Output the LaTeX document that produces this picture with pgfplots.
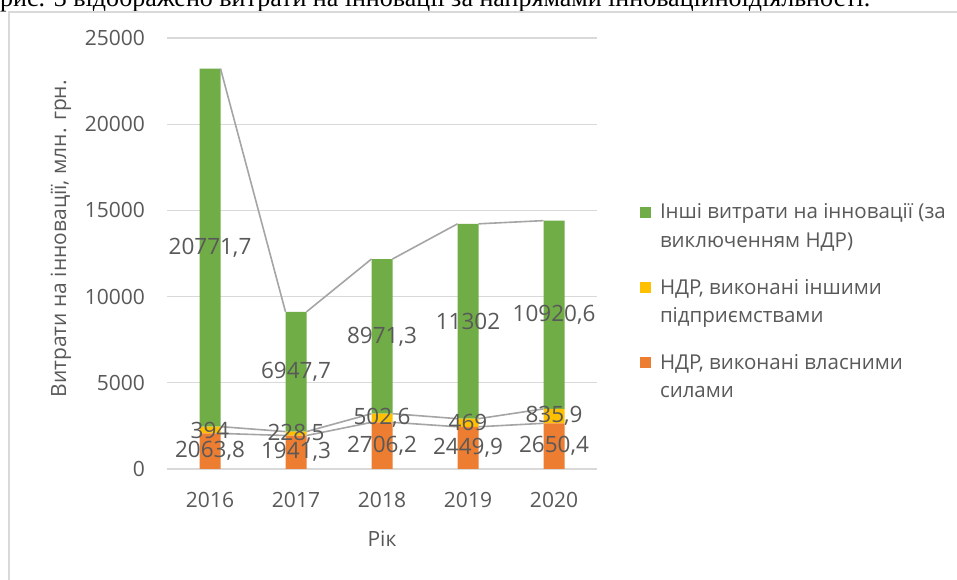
\documentclass[border=0pt]{standalone}
\usepackage{pgfplots}
\pgfplotsset{compat=1.18}
\usepackage{pgfplotstable}
\usepackage{fontspec}
\setmainfont{Open Sans}
\newfontfamily\bodyserif{Liberation Serif}
\definecolor{cgreen}{HTML}{70AD47}
\definecolor{cyellow}{HTML}{FFC000}
\definecolor{corange}{HTML}{ED7D31}
\definecolor{ctext}{HTML}{595959}
\definecolor{cgrid}{HTML}{D9D9D9}
\definecolor{cline}{HTML}{A5A5A5}
\newcommand\tickfont{\fontsize{21bp}{25bp}\selectfont}
\newcommand\labfont{\fontsize{22.5bp}{26bp}\selectfont}
\newcommand\legfont{\fontsize{20.5bp}{28.5bp}\selectfont}
\pgfplotstableread{
x own other rest
0 2063.8 394 20771.7
1 1941.3 228.5 6947.7
2 2706.2 502.6 8971.3
3 2449.9 469 11302
4 2650.4 835.9 10920.6
}\data
\pgfplotsset{
  base/.style={scale only axis, width=430bp, height=431bp,
    at={(167bp,111bp)}, anchor=south west,
    xmin=-0.5, xmax=4.5, ymin=0, ymax=25000, enlargelimits=false,
    /pgf/number format/assume math mode=true},
}
\begin{document}
\begin{tikzpicture}
\useasboundingbox (0,0) rectangle (957bp,580bp);
\fill[white] (0,0) rectangle (957bp,580bp);
\begin{scope}
\clip (0,0) rectangle (957bp,580bp);
\node[anchor=base west, inner sep=0pt, font=\bodyserif\fontsize{26bp}{30bp}\selectfont] at (0bp,573bp) {рис. 3 відображено витрати на інновації за напрямами інноваційноїдіяльності.};
\end{scope}
\draw[cgrid, line width=2bp] (9bp,-2bp) -- (9bp,568bp) -- (962bp,568bp);
\begin{axis}[base,
  ybar stacked, bar width=21bp,
  xtick={0,1,2,3,4}, xticklabels={2016,2017,2018,2019,2020},
  ytick={0,5000,10000,15000,20000,25000}, scaled y ticks=false,
  ymajorgrids, grid style={cgrid, line width=1.3bp},
  axis line style={draw=none}, major tick length=0pt,
  y tick label style={font=\tickfont, text=ctext, anchor=east, inner sep=0pt, xshift=-22bp,
    /pgf/number format/1000 sep={}},
  x tick label style={font=\tickfont, text=ctext, anchor=north, inner sep=0pt, yshift=-23bp},
  xlabel={Рік}, ylabel={Витрати на інновації, млн. грн.},
  every axis x label/.style={at={(axis description cs:0.5,0)}, anchor=north, yshift=-62bp,
    inner sep=0pt, font=\tickfont, text=ctext},
  every axis y label/.style={at={(axis description cs:0,0.534)}, xshift=-106bp, rotate=90, anchor=center,
    inner sep=0pt, font=\tickfont, text=ctext},
  reverse legend,
  legend style={at={(axis description cs:1.1,0.615)}, anchor=north west, draw=none, fill=none,
    inner sep=0pt, outer sep=0pt, row sep=30bp, font=\legfont, text=ctext,
    nodes={align=left, inner sep=0pt}, cells={anchor=north west},
    /tikz/every odd column/.append style={column sep=9bp}},
  legend image code/.code={\fill[#1] (0bp,-14bp) rectangle (11bp,-3bp);},
]
\addplot[fill=corange, draw=none] table[x=x, y=own]{\data};
\addlegendentry{НДР, виконані власними\\силами}
\addplot[fill=cyellow, draw=none] table[x=x, y=other]{\data};
\addlegendentry{НДР, виконані іншими\\підприємствами}
\addplot[fill=cgreen, draw=none] table[x=x, y=rest]{\data};
\addlegendentry{Інші витрати на інновації (за\\виключенням НДР)}
\end{axis}
\begin{axis}[base, hide axis, unbounded coords=jump, clip=false]
\addplot[cline, line width=1.6bp, mark=none] coordinates {
 (0.122,2063.8) (0.878,1941.3) (1.5,nan) (1.122,1941.3) (1.878,2706.2) (2.5,nan)
 (2.122,2706.2) (2.878,2449.9) (3.5,nan) (3.122,2449.9) (3.878,2650.4)};
\addplot[cline, line width=1.6bp, mark=none] coordinates {
 (0.122,2457.8) (0.878,2169.8) (1.5,nan) (1.122,2169.8) (1.878,3208.8) (2.5,nan)
 (2.122,3208.8) (2.878,2918.9) (3.5,nan) (3.122,2918.9) (3.878,3486.3)};
\addplot[cline, line width=1.6bp, mark=none] coordinates {
 (0.122,23229.5) (0.878,9117.5) (1.5,nan) (1.122,9117.5) (1.878,12180.1) (2.5,nan)
 (2.122,12180.1) (2.878,14220.9) (3.5,nan) (3.122,14220.9) (3.878,14406.9)};
\pgfplotsset{labs/.style={only marks, mark=*, mark size=0pt, mark options={draw=none, fill=none},
  point meta=explicit,
  nodes near coords={\pgfmathprintnumber[fixed, precision=1, use comma, 1000 sep={}]{\pgfplotspointmeta}},
  every node near coord/.append style={anchor=center, inner sep=0pt, font=\labfont, text=ctext}}}
\addplot[labs] table[x=x, y expr=0.5*\thisrow{own}, meta=own]{\data};
\addplot[labs] table[x=x, y expr=\thisrow{own}+0.5*\thisrow{other}, meta=other]{\data};
\addplot[labs] table[x=x, y expr=\thisrow{own}+\thisrow{other}+0.5*\thisrow{rest}, meta=rest]{\data};
\end{axis}
\end{tikzpicture}
\end{document}
